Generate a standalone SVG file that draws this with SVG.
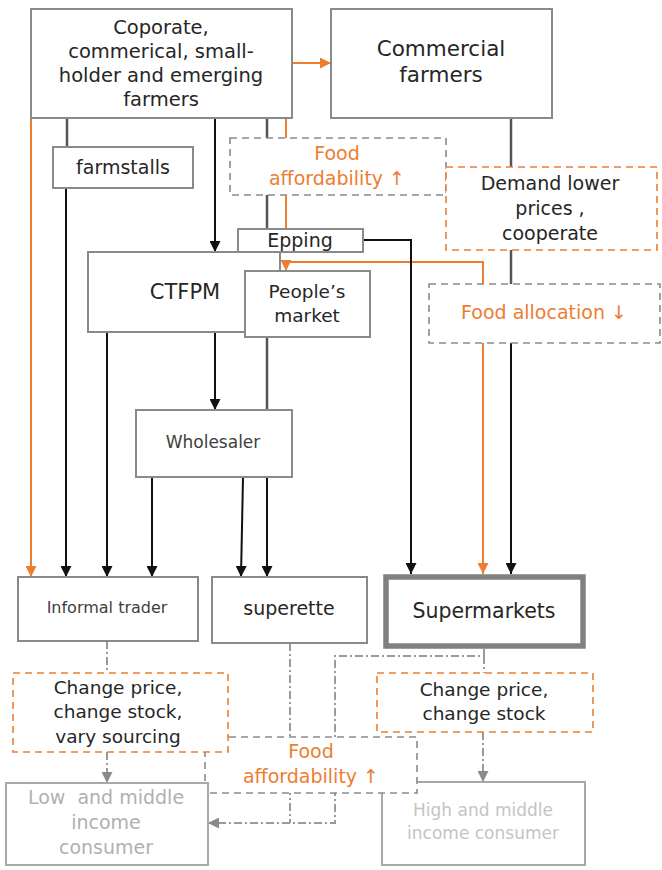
<svg xmlns="http://www.w3.org/2000/svg" width="662" height="870" viewBox="0 0 662 870">
<style>
.box{fill:#fff;stroke:#8a8a8a;stroke-width:2}
.dg{fill:#fff;stroke:#8a8a8a;stroke-width:1.6;stroke-dasharray:7 5}
.do{fill:#fff;stroke:#ED7D31;stroke-width:1.6;stroke-dasharray:7 5}
.t{font-family:"DejaVu Sans","Liberation Sans",sans-serif;fill:#262626;text-anchor:middle}
.to{fill:#ED7D31}
.k{stroke:#111;stroke-width:2;fill:none}
.g{stroke:#555;stroke-width:2.5;fill:none}
.o{stroke:#ED7D31;stroke-width:2;fill:none}
.dd{stroke:#9a9a9a;stroke-width:2;fill:none;stroke-dasharray:8 3 2 3}
</style>
<defs>
<marker id="ak" viewBox="0 0 10 10" refX="10" refY="5" markerWidth="11" markerHeight="11" markerUnits="userSpaceOnUse" orient="auto"><path d="M0,0 L10,5 L0,10 z" fill="#111"/></marker>
<marker id="ao" viewBox="0 0 10 10" refX="10" refY="5" markerWidth="11" markerHeight="11" markerUnits="userSpaceOnUse" orient="auto"><path d="M0,0 L10,5 L0,10 z" fill="#ED7D31"/></marker>
<marker id="ag" viewBox="0 0 10 10" refX="10" refY="5" markerWidth="11" markerHeight="11" markerUnits="userSpaceOnUse" orient="auto"><path d="M0,0 L10,5 L0,10 z" fill="#8a8a8a"/></marker>
</defs>

<g id="connectors">
  <path class="o" d="M292,63 H331" marker-end="url(#ao)"/>
  <path class="o" d="M31,118 V577" marker-end="url(#ao)"/>
  <path class="o" d="M286,118 V229"/>
  <path class="o" d="M483,284 V262 H286 V271" marker-end="url(#ao)"/>
  <path class="o" d="M483,343 V574" marker-end="url(#ao)"/>
  <path class="g" d="M67,118 V147"/>
  <path class="k" d="M66,188 V577" marker-end="url(#ak)"/>
  <path class="k" d="M215,118 V252" marker-end="url(#ak)"/>
  <path class="g" d="M267,118 V477"/>
  <path class="k" d="M267,477 V577" marker-end="url(#ak)"/>
  <path class="k" d="M107,332 V577" marker-end="url(#ak)"/>
  <path class="k" d="M215,332 V410" marker-end="url(#ak)"/>
  <path class="k" d="M152,477 V577" marker-end="url(#ak)"/>
  <path class="k" d="M243,477 L241,577" marker-end="url(#ak)"/>
  <path class="k" d="M363,240 H411 V574" marker-end="url(#ak)"/>
  <path class="g" d="M511,118 V284"/>
  <path class="k" d="M511,343 V574" marker-end="url(#ak)"/>
  <path class="dd" d="M107,641 V673"/>
  <path class="dd" d="M107,752 V783" marker-end="url(#ag)"/>
  <path class="dd" d="M290,643 V823"/>
  <path class="dd" d="M484,649 V656 H335 V823 H208" marker-end="url(#ag)"/>
  <path class="dd" d="M484,656 V673"/>
  <path class="dd" d="M483,732 V782" marker-end="url(#ag)"/>
</g>

<g id="n-corporate">
  <rect class="box" x="31" y="9" width="261" height="109"/>
  <text class="t" font-size="19.5" x="161" y="34">Coporate,</text>
  <text class="t" font-size="19.5" x="161" y="58">commerical, small-</text>
  <text class="t" font-size="19.5" x="161" y="82">holder and emerging</text>
  <text class="t" font-size="19.5" x="161" y="106">farmers</text>
</g>
<g id="n-commercial">
  <rect class="box" x="331" y="9" width="221" height="109"/>
  <text class="t" font-size="21.5" x="441" y="56">Commercial</text>
  <text class="t" font-size="21.5" x="441" y="82">farmers</text>
</g>
<g id="n-farmstalls">
  <rect class="box" x="53" y="147" width="140" height="41"/>
  <text class="t" font-size="19" x="123" y="174">farmstalls</text>
</g>
<g id="n-foodaff-top">
  <rect class="dg" x="230" y="138" width="216" height="57"/>
  <text class="t to" font-size="19" x="337" y="160">Food</text>
  <text class="t to" font-size="19" x="337" y="185">affordability ↑</text>
</g>
<g id="n-demand">
  <rect class="do" x="446" y="167" width="211" height="83"/>
  <text class="t" font-size="19" x="550" y="190">Demand lower</text>
  <text class="t" font-size="19" x="550" y="215">prices ,</text>
  <text class="t" font-size="19" x="550" y="240">cooperate</text>
</g>
<g id="n-ctfpm">
  <rect class="box" x="88" y="252" width="192" height="80"/>
  <text class="t" font-size="21" x="185" y="299">CTFPM</text>
</g>
<g id="n-epping">
  <rect class="box" x="238" y="229" width="125" height="23"/>
  <text class="t" font-size="19" x="300" y="247">Epping</text>
</g>
<g id="n-peoples">
  <rect class="box" x="245" y="271" width="125" height="66"/>
  <text class="t" font-size="18.5" x="307" y="298">People’s</text>
  <text class="t" font-size="18.5" x="307" y="322">market</text>
</g>
<g id="n-foodalloc">
  <rect class="dg" x="429" y="284" width="231" height="59"/>
  <text class="t to" font-size="19" x="544" y="319">Food allocation ↓</text>
</g>
<g id="n-wholesaler">
  <rect class="box" x="136" y="410" width="156" height="67"/>
  <text class="t" font-size="17" x="213" y="448" style="fill:#404040">Wholesaler</text>
</g>
<g id="n-informal">
  <rect class="box" x="18" y="577" width="180" height="64"/>
  <text class="t" font-size="16" x="107" y="613" style="fill:#404040">Informal trader</text>
</g>
<g id="n-superette">
  <rect class="box" x="212" y="577" width="155" height="66"/>
  <text class="t" font-size="19" x="289" y="615">superette</text>
</g>
<g id="n-supermarkets">
  <rect x="386" y="577" width="197" height="69" fill="#fff" stroke="#808080" stroke-width="5.5"/>
  <text class="t" font-size="20.5" x="484" y="618">Supermarkets</text>
</g>
<g id="n-high">
  <rect x="382" y="782" width="203" height="83" fill="#fff" stroke="#a8a8a8" stroke-width="2"/>
  <text class="t" font-size="17" x="483" y="816" style="fill:#c4c4c4">High and middle</text>
  <text class="t" font-size="17" x="483" y="839" style="fill:#c4c4c4">income consumer</text>
</g>
<g id="n-foodaff-bottom">
  <rect class="dg" x="205" y="737" width="212" height="56"/>
  <text class="t to" font-size="19" x="311" y="758">Food</text>
  <text class="t to" font-size="19" x="311" y="783">affordability ↑</text>
</g>
<g id="n-change-left">
  <rect class="do" x="13" y="673" width="215" height="79"/>
  <text class="t" font-size="18.5" x="118" y="694">Change price,</text>
  <text class="t" font-size="18.5" x="118" y="718">change stock,</text>
  <text class="t" font-size="18.5" x="118" y="743">vary sourcing</text>
</g>
<g id="n-change-right">
  <rect class="do" x="377" y="673" width="216" height="59"/>
  <text class="t" font-size="18.5" x="484" y="696">Change price,</text>
  <text class="t" font-size="18.5" x="484" y="720">change stock</text>
</g>
<g id="n-low">
  <rect x="6" y="783" width="202" height="82" fill="#fff" stroke="#a8a8a8" stroke-width="2"/>
  <text class="t" font-size="19" x="106" y="804" style="fill:#b0b0b0" xml:space="preserve">Low  and middle</text>
  <text class="t" font-size="19" x="106" y="829" style="fill:#b0b0b0">income</text>
  <text class="t" font-size="19" x="106" y="854" style="fill:#b0b0b0">consumer</text>
</g>
</svg>
